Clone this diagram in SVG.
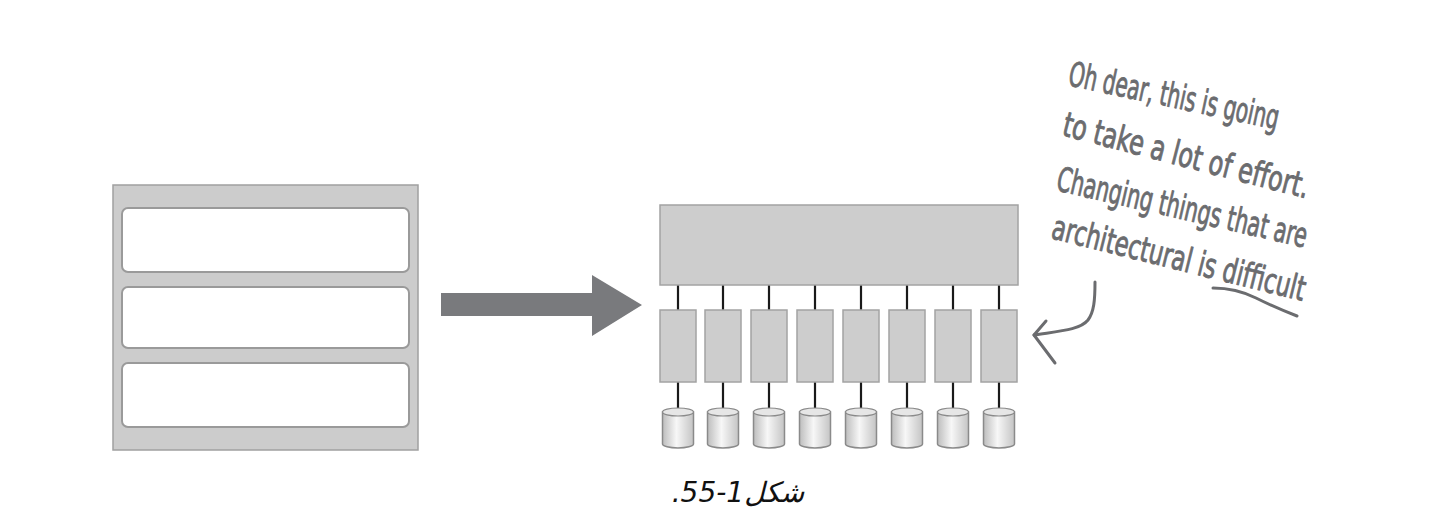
<svg xmlns="http://www.w3.org/2000/svg" width="1445" height="524" viewBox="0 0 1445 524">
<style>
.panel{fill:#cccccc;stroke:#a0a0a0;stroke-width:1.5}
.row{fill:#ffffff;stroke:#9a9a9a;stroke-width:2}
.box{fill:#cdcdcd;stroke:#a3a3a3;stroke-width:1.5}
.link{stroke:#1a1a1a;stroke-width:2.2}
.cyl{fill:url(#cg);stroke:#8a8a8a;stroke-width:1.5}
.cyltop{fill:#e6e6e6;stroke:#8a8a8a;stroke-width:1.2}
.hand{font-family:"Liberation Sans Narrow","DejaVu Sans Condensed","Liberation Sans",sans-serif;font-size:34px;fill:#6b6c6f;stroke:#6b6c6f;stroke-width:0.9;stroke-linejoin:round}
.pen{fill:none;stroke:#6b6c6f;stroke-width:3;stroke-linecap:round;stroke-linejoin:round}
.cap{font-family:"DejaVu Sans","Noto Sans",sans-serif;font-size:28px;font-style:italic;fill:#111}
</style>
<defs>
<linearGradient id="cg" x1="0" y1="0" x2="1" y2="0">
<stop offset="0" stop-color="#bdbdbd"/>
<stop offset="0.45" stop-color="#f7f7f7"/>
<stop offset="1" stop-color="#c4c4c4"/>
</linearGradient>
<symbol id="db" viewBox="0 0 32 42" overflow="visible">
<path class="cyl" d="M0.5,5 L0.5,37 A15.5,4 0 0 0 31.5,37 L31.5,5 Z"/>
<ellipse class="cyltop" cx="16" cy="5" rx="15.5" ry="4"/>
</symbol>
</defs>

<g id="monolith">
<rect class="panel" x="113" y="185" width="305" height="265"/>
<rect class="row" x="122" y="208" width="287" height="64" rx="6"/>
<rect class="row" x="122" y="287" width="287" height="61" rx="6"/>
<rect class="row" x="122" y="363" width="287" height="64" rx="6"/>
</g>

<g id="transition-arrow">
<polygon fill="#797a7d" points="441,293 592,293 592,275 642,305 592,336 592,316 441,316"/>
</g>

<g id="connectors">
<line class="link" x1="678" y1="285" x2="678" y2="310"/>
<line class="link" x1="723" y1="285" x2="723" y2="310"/>
<line class="link" x1="769" y1="285" x2="769" y2="310"/>
<line class="link" x1="815" y1="285" x2="815" y2="310"/>
<line class="link" x1="861" y1="285" x2="861" y2="310"/>
<line class="link" x1="907" y1="285" x2="907" y2="310"/>
<line class="link" x1="953" y1="285" x2="953" y2="310"/>
<line class="link" x1="999" y1="285" x2="999" y2="310"/>
<line class="link" x1="678" y1="382" x2="678" y2="409"/>
<line class="link" x1="723" y1="382" x2="723" y2="409"/>
<line class="link" x1="769" y1="382" x2="769" y2="409"/>
<line class="link" x1="815" y1="382" x2="815" y2="409"/>
<line class="link" x1="861" y1="382" x2="861" y2="409"/>
<line class="link" x1="907" y1="382" x2="907" y2="409"/>
<line class="link" x1="953" y1="382" x2="953" y2="409"/>
<line class="link" x1="999" y1="382" x2="999" y2="409"/>
</g>

<g id="top-layer">
<rect class="box" x="660" y="205" width="358" height="80"/>
</g>

<g id="services">
<rect class="box" x="660" y="310" width="36" height="72"/>
<rect class="box" x="705" y="310" width="36" height="72"/>
<rect class="box" x="751" y="310" width="36" height="72"/>
<rect class="box" x="797" y="310" width="36" height="72"/>
<rect class="box" x="843" y="310" width="36" height="72"/>
<rect class="box" x="889" y="310" width="36" height="72"/>
<rect class="box" x="935" y="310" width="36" height="72"/>
<rect class="box" x="981" y="310" width="36" height="72"/>
</g>

<g id="databases">
<use href="#db" x="662" y="407" width="32" height="42"/>
<use href="#db" x="707" y="407" width="32" height="42"/>
<use href="#db" x="753" y="407" width="32" height="42"/>
<use href="#db" x="799" y="407" width="32" height="42"/>
<use href="#db" x="845" y="407" width="32" height="42"/>
<use href="#db" x="891" y="407" width="32" height="42"/>
<use href="#db" x="937" y="407" width="32" height="42"/>
<use href="#db" x="983" y="407" width="32" height="42"/>
</g>

<g id="annotation">
<text class="hand" x="1067" y="85" transform="rotate(12 1067 85)" textLength="214" lengthAdjust="spacingAndGlyphs">Oh dear, this is going</text>
<text class="hand" x="1061" y="135" transform="rotate(14.5 1061 135)" textLength="253" lengthAdjust="spacingAndGlyphs">to take a lot of effort.</text>
<text class="hand" x="1055" y="190" transform="rotate(13 1055 190)" textLength="256" lengthAdjust="spacingAndGlyphs">Changing things that are</text>
<text class="hand" x="1050" y="238" transform="rotate(14 1050 238)" textLength="260" lengthAdjust="spacingAndGlyphs">architectural is difficult</text>
<path class="pen" d="M1213,288 Q1236,288 1256,298 T1297,316"/>
<path class="pen" d="M1095,282 C1095,300 1094,312 1088,320 C1080,330 1060,331 1034,335"/>
<path class="pen" d="M1046,321 L1034,335 L1055,363"/>
</g>

<g id="caption">
<text class="cap" x="738" y="502" direction="rtl" text-anchor="middle">شكل1-55.</text>
</g>
</svg>
